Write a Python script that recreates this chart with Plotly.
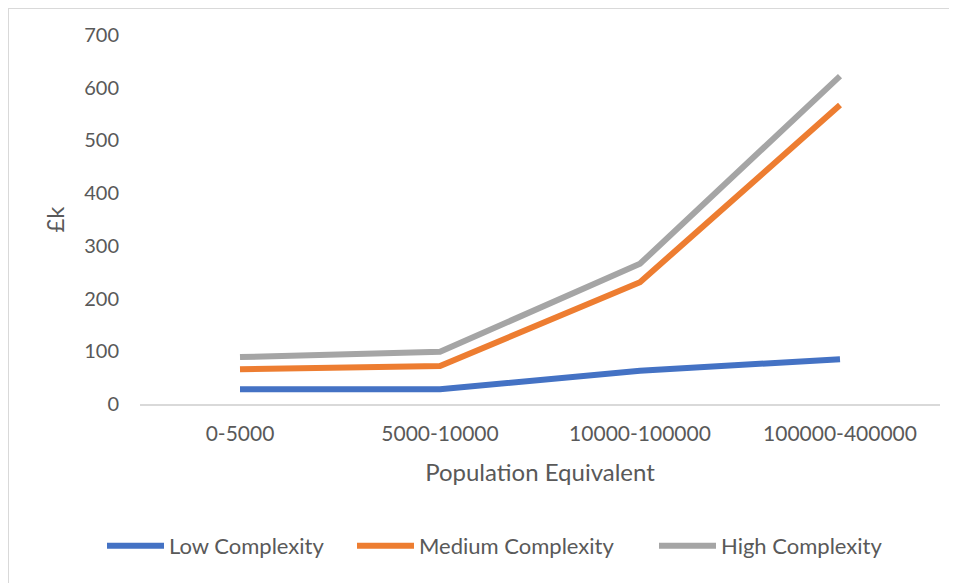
import plotly.graph_objects as go

categories = ["0-5000", "5000-10000", "10000-100000", "100000-400000"]
low_complexity = [28, 28, 63, 85]
medium_complexity = [66, 72, 231, 567]
high_complexity = [89, 99, 266, 622]
y_ticks = [0, 100, 200, 300, 400, 500, 600, 700]

FONT = "Lato"
GREY = "#595959"

# page is rendered with an 8px body margin; work in figure coordinates
OFF = 8
W, H = 957 - OFF, 583 - OFF
L, T = 140 - OFF, 35 - OFF
R = W - (940 - OFF)
B = H - (404 - OFF)
pw, ph = W - L - R, H - T - B

def px_x(page_px):
    return (page_px - OFF - L) / pw

def px_y(page_py):
    return (H - B - (page_py - OFF)) / ph

series = [
    ("Low Complexity", low_complexity, "#4472C4", "legend", 108),
    ("Medium Complexity", medium_complexity, "#ED7D31", "legend2", 358),
    ("High Complexity", high_complexity, "#A5A5A5", "legend3", 660),
]

fig = go.Figure()
legend_layout = {}
for name, vals, col, lg, lx in series:
    fig.add_trace(go.Scatter(
        x=categories, y=vals, name=name, mode="lines",
        line=dict(color=col, width=6), legend=lg,
    ))
    legend_layout[lg] = dict(
        orientation="h", x=px_x(lx - 6), xanchor="left",
        y=px_y(546), yanchor="middle",
        font=dict(size=22, color=GREY, family=FONT),
        itemwidth=57, bgcolor="rgba(0,0,0,0)",
    )

fig.update_layout(
    width=W, height=H,
    margin=dict(l=L, r=R, t=T, b=B),
    paper_bgcolor="white", plot_bgcolor="white",
    font=dict(family=FONT, color=GREY, size=20),
    showlegend=True,
    xaxis=dict(
        type="category", range=[-0.5, 3.5],
        showgrid=False, zeroline=False,
        showline=True, linecolor="#D9D9D9", linewidth=1.5,
        ticks="", tickfont=dict(size=21, color=GREY),
        ticklabelstandoff=10,
        title=dict(text="Population Equivalent", font=dict(size=24, color=GREY), standoff=20),
    ),
    yaxis=dict(
        range=[0, 700], tickvals=y_ticks,
        showgrid=False, zeroline=False, showline=False,
        ticks="", tickfont=dict(size=20, color=GREY),
        ticklabelstandoff=20,
        title=dict(text="£k", font=dict(size=24, color=GREY), standoff=12),
    ),
    shapes=[
        dict(type="line", xref="paper", yref="paper",
             x0=px_x(8), x1=px_x(957),
             y0=px_y(8), y1=px_y(8),
             line=dict(color="#D9D9D9", width=2)),
        dict(type="line", xref="paper", yref="paper",
             x0=px_x(8), x1=px_x(8),
             y0=px_y(8), y1=px_y(583),
             line=dict(color="#D9D9D9", width=2)),
    ],
    **legend_layout,
)

fig.write_html("out.html")
